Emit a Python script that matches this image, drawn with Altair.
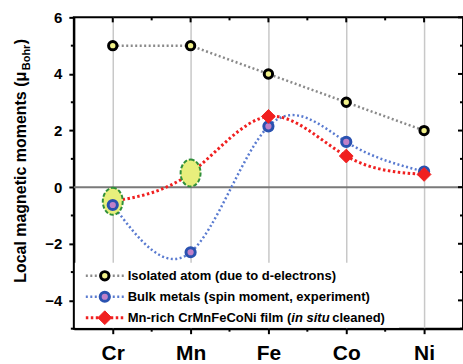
import altair as alt
import pandas as pd

# ---------------- data ----------------
elements = ["Cr", "Mn", "Fe", "Co", "Ni"]
isolated = [5, 5, 4, 3, 2]
bulk = [-0.63, -2.3, 2.15, 1.6, 0.55]
film = [-0.5, 0.5, 2.5, 1.1, 0.45]
film_marker = ["ellipse", "ellipse", "diamond", "diamond", "diamond"]
y_major = [-4, -2, 0, 2, 4, 6]
y_minor = [-5, -3, -1, 1, 3, 5]
x_minor = [0.5, 1.5, 2.5, 3.5]
legend_labels = [
    "Isolated atom (due to d-electrons)",
    "Bulk metals (spin moment, experiment)",
    "Mn-rich CrMnFeCoNi film (",
    "in situ",
    "cleaned)",
]
y_title = ["Local magnetic moments (\u03bc", "Bohr", ")"]

# ---------------- layout ----------------
W, H = 390, 312
FONT = "Liberation Sans"
GRAY, BLUE, RED = "#8a8a8a", "#5a7bd0", "#f02020"
YEL, PURP, BSTROKE = "#f2f28a", "#c080c8", "#2a52b0"
ELL_FILL, ELL_STROKE = "#e8ef7c", "#2f8f3a"
ELLIPSE = "M0,-1A0.74,1,0,1,1,0,1A0.74,1,0,1,1,0,-1Z"

idx = list(range(len(elements)))
df = pd.DataFrame({"idx": idx, "el": elements, "iso": isolated,
                   "bulk": bulk, "film": film, "fm": film_marker})
one = pd.DataFrame({"a": [0]})

xs = alt.Scale(domain=[-0.5, 4.5], nice=False, zero=False)
ys = alt.Scale(domain=[-5, 6], nice=False, zero=False)
label_expr = "[" + ",".join("'%s'" % e for e in elements) + "][datum.value]"

x_axis = alt.Axis(values=idx, labelExpr=label_expr, title=None,
                  labelFont=FONT, labelFontSize=21, labelFontWeight="bold",
                  labelColor="black", labelPadding=9,
                  tickColor="black", tickWidth=2, tickSize=5,
                  domainColor="black", domainWidth=2,
                  grid=True, gridColor="#c8c8c8", gridWidth=1.5)
y_axis = alt.Axis(values=y_major, title=None, format="d",
                  labelFont=FONT, labelFontSize=15, labelFontWeight="bold",
                  labelColor="black", labelPadding=7,
                  tickColor="black", tickWidth=2, tickSize=5,
                  domainColor="black", domainWidth=2, grid=False)

X = alt.X("idx:Q", scale=xs, axis=x_axis)

def Y(field):
    return alt.Y(field + ":Q", scale=ys, axis=y_axis)

# zero line
zero = alt.Chart(pd.DataFrame({"idx": [-0.5, 4.5], "z": [0, 0]})).mark_line(
    color="#7a7a7a", strokeWidth=2).encode(x=X, y=Y("z"))

base = alt.Chart(df)
line_iso = base.mark_line(color=GRAY, strokeWidth=2.5, strokeDash=[2, 2.5]).encode(
    x=X, y=Y("iso"))
line_bulk = base.mark_line(color=BLUE, strokeWidth=2.5, strokeDash=[2, 2.5],
                           interpolate="natural").encode(x=X, y=Y("bulk"))
line_film = base.mark_line(color=RED, strokeWidth=3, strokeDash=[2.5, 2.5],
                           interpolate="natural").encode(x=X, y=Y("film"))

ell = base.transform_filter("datum.fm == 'ellipse'").mark_point(
    shape=ELLIPSE, size=729, filled=True, fill=ELL_FILL, fillOpacity=1,
    stroke=ELL_STROKE, strokeWidth=2, strokeDash=[4, 2], opacity=1).encode(
    x=X, y=Y("film"))
pt_bulk = base.mark_point(shape="circle", size=85, filled=True, fill=PURP,
                          stroke=BSTROKE, strokeWidth=3, opacity=1).encode(
    x=X, y=Y("bulk"))
pt_iso = base.mark_point(shape="circle", size=70, filled=True, fill=YEL,
                         stroke="black", strokeWidth=3, opacity=1).encode(
    x=X, y=Y("iso"))
pt_film = base.transform_filter("datum.fm == 'diamond'").mark_point(
    shape="diamond", size=190, filled=True, fill=RED, stroke=RED,
    strokeWidth=1, opacity=1).encode(x=X, y=Y("film"))

# minor and mirror ticks
def xticks(vals, y0, y1):
    return alt.Chart(pd.DataFrame({"idx": vals})).mark_rule(
        color="black", strokeWidth=2).encode(
        x=X, y=alt.value(y0), y2=alt.value(y1))

def yticks(vals, x0, x1):
    return alt.Chart(pd.DataFrame({"v": vals})).mark_rule(
        color="black", strokeWidth=2).encode(
        y=Y("v"), x=alt.value(x0), x2=alt.value(x1))

ticks = [
    xticks(x_minor, H, H + 3),
    xticks(idx, 0, 5),
    xticks(x_minor, 0, 3),
    yticks(y_minor, -3, 0),
    yticks(y_major, W - 5, W),
    yticks(y_minor, W - 3, W),
]

# legend
leg_bg = alt.Chart(one).mark_rect(fill="white").encode(
    x=alt.value(1), x2=alt.value(326), y=alt.value(246), y2=alt.value(311))
rows = [259, 280, 301]
leg = [leg_bg]
styles = [
    (GRAY, [2, 2.5], 2.5, dict(shape="circle", size=70, fill=YEL, stroke="black", strokeWidth=3)),
    (BLUE, [2, 2.5], 2.5, dict(shape="circle", size=85, fill=PURP, stroke=BSTROKE, strokeWidth=3)),
    (RED, [2.5, 2.5], 3, dict(shape="diamond", size=190, fill=RED, stroke=RED, strokeWidth=1)),
]
for ry, (c, dash, sw, mk) in zip(rows, styles):
    leg.append(alt.Chart(one).mark_rule(color=c, strokeDash=dash, strokeWidth=sw).encode(
        x=alt.value(12), x2=alt.value(50), y=alt.value(ry)))
    leg.append(alt.Chart(one).mark_point(filled=True, opacity=1, **mk).encode(
        x=alt.value(31), y=alt.value(ry)))

def txt(s, x, y, italic=False, size=13):
    return alt.Chart(one).mark_text(
        text=s, font=FONT, fontSize=size, fontWeight="bold",
        fontStyle="italic" if italic else "normal",
        align="left", baseline="middle", color="black").encode(
        x=alt.value(x), y=alt.value(y))

leg += [txt(legend_labels[0], 54, rows[0]),
        txt(legend_labels[1], 54, rows[1]),
        txt(legend_labels[2], 54, rows[2]),
        txt(legend_labels[3], 218, rows[2], italic=True),
        txt(legend_labels[4], 259, rows[2])]

# y-axis title with subscript
def vtxt(s, x, y, size):
    return alt.Chart(one).mark_text(
        text=s, font=FONT, fontSize=size, fontWeight="bold", angle=270,
        align="left", baseline="alphabetic", color="black").encode(
        x=alt.value(x), y=alt.value(y))

ytitle = [vtxt(y_title[0], -48, 266, 16),
          vtxt(y_title[1], -44, 53, 11),
          vtxt(y_title[2], -48, 27, 16)]

chart = alt.layer(
    zero, line_iso, line_bulk, line_film, ell, pt_bulk, pt_iso, pt_film,
    *ticks, *leg, *ytitle
).properties(
    width=W, height=H,
    autosize=alt.AutoSizeParams(type="none"),
    padding={"left": 74, "top": 17, "right": 0, "bottom": 35},
).configure_view(stroke="black", strokeWidth=2)

chart.save("out.html", embed_options={"renderer": "svg", "actions": False})
